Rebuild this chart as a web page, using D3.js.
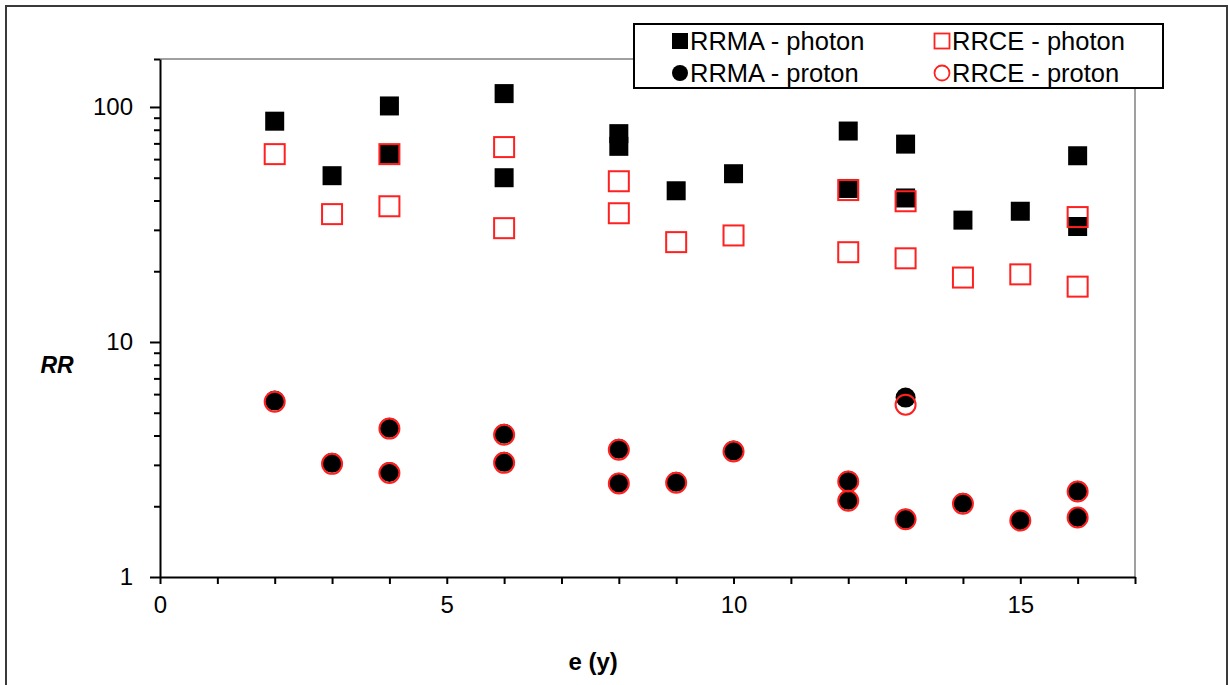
<!DOCTYPE html>
<html>
<head>
<meta charset="utf-8">
<script src="https://cdn.jsdelivr.net/npm/d3@7/dist/d3.min.js"></script>
<style>
  html, body { margin: 0; padding: 0; background: #ffffff; }
  svg { display: block; font-family: "Liberation Sans", Arial, sans-serif; }
</style>
</head>
<body>
<svg id="chart" width="1228" height="685"></svg>
<script>
// Age (years) at which each ratio was estimated
const rrmaPhotonE = [2, 3, 4, 4, 6, 6, 8, 8, 9, 10, 12, 12, 13, 13, 14, 15, 16, 16];
const rrmaPhotonRR = [87, 51, 101, 63, 114, 50, 77, 68, 44, 52, 79, 45, 69.5, 41, 33, 36, 62, 31];

const rrcePhotonE = [2, 3, 4, 4, 6, 6, 8, 8, 9, 10, 12, 12, 13, 13, 14, 15, 16, 16];
const rrcePhotonRR = [63, 35, 63, 37.8, 67.5, 30.5, 48.3, 35.3, 26.6, 28.4, 44.3, 24.1, 39.7, 22.7, 18.8, 19.4, 34, 17.2];

const rrmaProtonE = [2, 3, 4, 4, 6, 6, 8, 8, 9, 10, 12, 12, 13, 13, 14, 15, 16, 16];
const rrmaProtonRR = [5.63, 3.06, 4.32, 2.80, 4.07, 3.09, 3.51, 2.52, 2.54, 3.45, 2.57, 2.13, 5.8, 1.77, 2.07, 1.75, 2.33, 1.80];

const rrceProtonE = [2, 3, 4, 4, 6, 6, 8, 8, 9, 10, 12, 12, 13, 13, 14, 15, 16, 16];
const rrceProtonRR = [5.57, 3.03, 4.28, 2.77, 4.03, 3.06, 3.48, 2.50, 2.52, 3.42, 2.55, 2.11, 5.41, 1.76, 2.05, 1.74, 2.31, 1.79];

// Axis ticks
const xTicks = [0, 1, 2, 3, 4, 5, 6, 7, 8, 9, 10, 11, 12, 13, 14, 15, 16, 17];
const xTickLabels = [0, 5, 10, 15];
const yMajorTicks = [1, 10, 100];
const yMinorTicks = [2, 3, 4, 5, 6, 7, 8, 9, 20, 30, 40, 50, 60, 70, 80, 90, 160];

const legendLabels = ["RRMA - photon", "RRCE - photon", "RRMA - proton", "RRCE - proton"];

const svg = d3.select("#chart");

// Outer chart frame
svg.append("rect")
  .attr("x", 6).attr("y", 6)
  .attr("width", 1221).attr("height", 700)
  .attr("fill", "#ffffff")
  .attr("stroke", "#3a3a3a").attr("stroke-width", 2);

const plot = { left: 160, right: 1135, top: 59, bottom: 577 };

const x = d3.scaleLinear().domain([0, 17]).range([plot.left, plot.right]);
const y = d3.scaleLog().domain([1, 160]).range([plot.bottom, plot.top]);

// Plot-area border (top and right)
svg.append("path")
  .attr("d", `M${plot.left},${plot.top}H${plot.right}V${plot.bottom}`)
  .attr("fill", "none")
  .attr("stroke", "#a0a0a0").attr("stroke-width", 2);

// Y axis: minor ticks, then major ticks with labels
const yMinor = svg.append("g")
  .attr("transform", `translate(${plot.left},0)`)
  .call(d3.axisLeft(y).tickValues(yMinorTicks).tickSize(6).tickFormat(""));
yMinor.select(".domain").remove();

const yMajor = svg.append("g")
  .attr("transform", `translate(${plot.left},0)`)
  .call(d3.axisLeft(y).tickValues(yMajorTicks).tickSize(10).tickSizeOuter(0)
    .tickPadding(17).tickFormat(d3.format("d")));

// X axis
const xAxis = svg.append("g")
  .attr("transform", `translate(0,${plot.bottom})`)
  .call(d3.axisBottom(x).tickValues(xTicks).tickSize(7).tickSizeOuter(0).tickPadding(12)
    .tickFormat(d => xTickLabels.includes(d) ? d : ""));

[yMinor, yMajor, xAxis].forEach(g => {
  g.selectAll("line").attr("stroke", "#000").attr("stroke-width", 2);
  g.selectAll(".domain").attr("stroke", "#000").attr("stroke-width", 2);
  g.selectAll("text").attr("fill", "#000").style("font-size", "24px")
    .style("font-family", "'Liberation Sans', Arial, sans-serif");
});

// Axis titles
svg.append("text")
  .attr("x", x(7.5) + 3).attr("y", 670)
  .attr("text-anchor", "middle")
  .style("font-size", "24px").style("font-weight", "bold")
  .text("e (y)");

svg.append("text")
  .attr("x", 57).attr("y", 373)
  .attr("text-anchor", "middle")
  .style("font-size", "23px").style("font-weight", "bold").style("font-style", "italic")
  .text("RR");

// Marker drawing helpers
const SQ = 19;   // filled square side
const SQO = 20;  // open square side
const R = 10;    // circle radius

function filledSquares(xs, ys) {
  svg.append("g").selectAll("rect").data(d3.zip(xs, ys)).join("rect")
    .attr("x", d => x(d[0]) - SQ / 2).attr("y", d => y(d[1]) - SQ / 2)
    .attr("width", SQ).attr("height", SQ)
    .attr("fill", "#000");
}
function openSquares(xs, ys) {
  svg.append("g").selectAll("rect").data(d3.zip(xs, ys)).join("rect")
    .attr("x", d => x(d[0]) - SQO / 2).attr("y", d => y(d[1]) - SQO / 2)
    .attr("width", SQO).attr("height", SQO)
    .attr("fill", "none").attr("stroke", "#ff2020").attr("stroke-width", 2);
}
function filledCircles(xs, ys) {
  svg.append("g").selectAll("circle").data(d3.zip(xs, ys)).join("circle")
    .attr("cx", d => x(d[0])).attr("cy", d => y(d[1])).attr("r", R)
    .attr("fill", "#000");
}
function openCircles(xs, ys) {
  svg.append("g").selectAll("circle").data(d3.zip(xs, ys)).join("circle")
    .attr("cx", d => x(d[0])).attr("cy", d => y(d[1])).attr("r", R)
    .attr("fill", "none").attr("stroke", "#ff2020").attr("stroke-width", 2);
}

filledSquares(rrmaPhotonE, rrmaPhotonRR);
openSquares(rrcePhotonE, rrcePhotonRR);
filledCircles(rrmaProtonE, rrmaProtonRR);
openCircles(rrceProtonE, rrceProtonRR);

// Legend
const legend = svg.append("g");
legend.append("rect")
  .attr("x", 634).attr("y", 24).attr("width", 529).attr("height", 64)
  .attr("fill", "#ffffff").attr("stroke", "#000").attr("stroke-width", 2);

const legendPos = [
  { mx: 680, ty: 41 }, { mx: 942, ty: 41 },
  { mx: 680, ty: 73 }, { mx: 942, ty: 73 }
];
const legendKinds = ["fsq", "osq", "fci", "oci"];

legendLabels.forEach((label, i) => {
  const p = legendPos[i];
  const k = legendKinds[i];
  if (k === "fsq") {
    legend.append("rect").attr("x", p.mx - 8).attr("y", p.ty - 8).attr("width", 16).attr("height", 16).attr("fill", "#000");
  } else if (k === "osq") {
    legend.append("rect").attr("x", p.mx - 7.5).attr("y", p.ty - 7.5).attr("width", 15).attr("height", 15)
      .attr("fill", "none").attr("stroke", "#ff2020").attr("stroke-width", 1.8);
  } else if (k === "fci") {
    legend.append("circle").attr("cx", p.mx).attr("cy", p.ty).attr("r", 8).attr("fill", "#000");
  } else {
    legend.append("circle").attr("cx", p.mx).attr("cy", p.ty).attr("r", 7.5)
      .attr("fill", "none").attr("stroke", "#ff2020").attr("stroke-width", 1.8);
  }
  legend.append("text")
    .attr("x", p.mx + 10).attr("y", p.ty)
    .attr("dy", "0.36em")
    .style("font-size", "25.5px")
    .text(label);
});
</script>
</body>
</html>
